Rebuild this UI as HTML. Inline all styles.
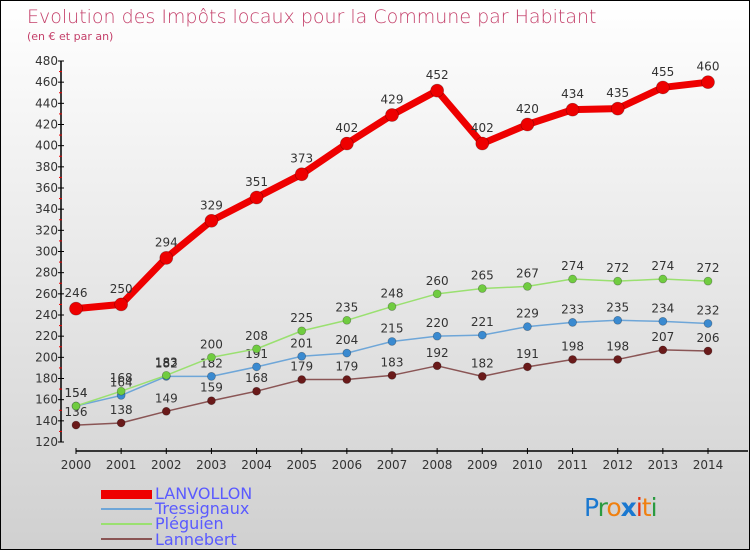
<!DOCTYPE html>
<html><head><meta charset="utf-8"><style>
body{margin:0}
#c{width:748px;height:548px;border:1px solid #000;background:linear-gradient(#fff,#d0d0d0);position:relative;font-family:"DejaVu Sans","Liberation Sans",sans-serif;overflow:hidden}
</style></head><body>
<div id="c">
<svg id="s" width="748" height="548" xmlns="http://www.w3.org/2000/svg">
<text x="26" y="22" font-size="19" fill="#c4406a" font-family="DejaVu Sans" font-weight="200">Evolution des Impôts locaux pour la Commune par Habitant</text>
<text x="26" y="39" font-size="11" fill="#c4406a">(en € et par an)</text>
<g id="axes"></g><g id="series"></g>
<g>
<rect x="100" y="489" width="51" height="9" fill="#e00"/>
<text x="154" y="498" font-size="16" fill="#5a5aff">LANVOLLON</text>
<rect x="100" y="507" width="51" height="2" fill="#6ea6d8"/>
<text x="154" y="513" font-size="16" fill="#5a5aff">Tressignaux</text>
<rect x="100" y="522" width="51" height="2" fill="#9ae070"/>
<text x="154" y="528" font-size="16" fill="#5a5aff">Pléguien</text>
<rect x="100" y="537" width="51" height="2" fill="#8a5555"/>
<text x="154" y="544" font-size="16" fill="#5a5aff">Lannebert</text>
</g>
<text x="583" y="515" font-size="25" font-family="DejaVu Sans" letter-spacing="-1"><tspan fill="#1a78d0">P</tspan><tspan fill="#2a9a40">r</tspan><tspan fill="#f08010">o</tspan><tspan fill="#1a78d0" font-weight="bold">x</tspan><tspan fill="#e83010">i</tspan><tspan fill="#f08010">t</tspan><tspan fill="#2a9a40">i</tspan></text>
</svg></div>
<script>
const years=["2000","2001","2002","2003","2004","2005","2006","2007","2008","2009","2010","2011","2012","2013","2014"];
const yTicks=[120,140,160,180,200,220,240,260,280,300,320,340,360,380,400,420,440,460,480];
const lanvollon=[246,250,294,329,351,373,402,429,452,402,420,434,435,455,460];
const tressignaux=[154,164,182,182,191,201,204,215,220,221,229,233,235,234,232];
const pleguien=[154,168,183,200,208,225,235,248,260,265,267,274,272,274,272];
const lannebert=[136,138,149,159,168,179,179,183,192,182,191,198,198,207,206];
const NS="http://www.w3.org/2000/svg";
const X=i=>75+i*(632/(years.length-1));
const Y=v=>441-(v-120)*(381/360);
function mk(t,a,p){const e=document.createElementNS(NS,t);for(const k in a)e.setAttribute(k,a[k]);p.appendChild(e);return e;}
const ax=document.getElementById('axes');
const ya=mk('line',{x1:60,y1:Y(480),x2:60,y2:Y(120),stroke:'#000','stroke-width':1.5},ax);


const xa=mk('line',{x1:75,y1:450,x2:747,y2:450,stroke:'#000','stroke-width':1.5},ax);


yTicks.forEach((v,i)=>{
 mk('line',{x1:57,y1:Y(v),x2:63,y2:Y(v),stroke:'#000'},ax);
 if(i<yTicks.length-1)mk('line',{x1:58,y1:Y(v+10),x2:61,y2:Y(v+10),stroke:'#e00'},ax);
 const t=mk('text',{x:57,y:Y(v)+4,'font-size':12,fill:'#333','text-anchor':'end'},ax);t.textContent=v;
 
 
});
years.forEach((y,i)=>{
 mk('line',{x1:X(i),y1:447,x2:X(i),y2:453,stroke:'#000'},ax);
 const t=mk('text',{x:X(i),y:468,'font-size':12,fill:'#333','text-anchor':'middle'},ax);t.textContent=y;
 
 
});
const sg=document.getElementById('series');
function series(name,data,color,dot,w,r){
 const g=mk('g',{},sg);
 
 
 const l=mk('polyline',{points:data.map((v,i)=>X(i)+','+Y(v)).join(' '),fill:'none',stroke:color,'stroke-width':w,'stroke-linejoin':'round'},g);
 
 
 data.forEach((v,i)=>{
  const c=mk('circle',{cx:X(i),cy:Y(v),r:r,fill:dot,stroke:'rgba(0,0,0,0.3)','stroke-width':0.7},g);
  
  
  const t=mk('text',{x:X(i),y:Y(v)-(r+5),'font-size':12,fill:'#333','text-anchor':'middle'},g);t.textContent=v;
  
  
 });
}
series('lannebert',lannebert,'#8a5555','#6a1a1a',1.5,4);
series('tressignaux',tressignaux,'#6ea6d8','#3a8ad0',1.5,4);
series('pleguien',pleguien,'#9ae070','#70cc40',1.5,4);
series('lanvollon',lanvollon,'#e00','#e00',7,6.5);
</script>
</body></html>
